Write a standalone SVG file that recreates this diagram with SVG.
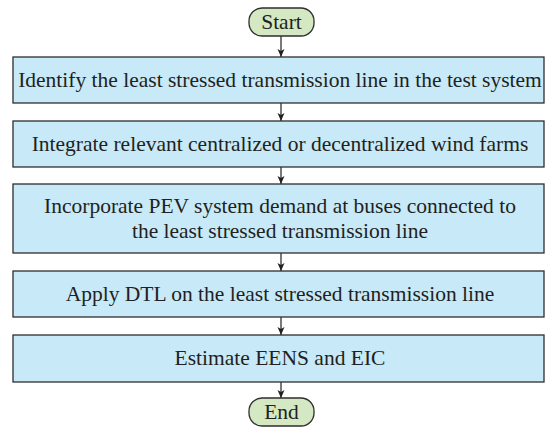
<svg xmlns="http://www.w3.org/2000/svg" width="546" height="428" viewBox="0 0 546 428">
<style>
.box{fill:#c7e9f8;stroke:#2e2e2e;stroke-width:1.3}
.pill{fill:#d3e8c3;stroke:#2e2e2e;stroke-width:1.3}
.t{font-family:'Liberation Serif','Times New Roman',serif;font-size:21.5px;fill:#231f20;text-anchor:middle}
.c{stroke:#231f20;stroke-width:1.2;fill:none;marker-end:url(#ah)}
</style>
<defs>
<marker id="ah" markerWidth="8" markerHeight="10" refX="4" refY="9" orient="0" markerUnits="userSpaceOnUse">
<path d="M0.5,1 L4,9 L7.5,1 L4,3 Z" fill="#231f20"/>
</marker>
</defs>
<g id="connectors">
<line class="c" x1="281" y1="36" x2="281" y2="57"/>
<line class="c" x1="281" y1="103" x2="281" y2="121"/>
<line class="c" x1="281" y1="167" x2="281" y2="184"/>
<line class="c" x1="281" y1="253" x2="281" y2="271"/>
<line class="c" x1="281" y1="317" x2="281" y2="335"/>
<line class="c" x1="281" y1="382" x2="281" y2="398"/>
</g>
<g id="start"><rect class="pill" x="249" y="8" width="65" height="28" rx="13"/><text class="t" x="281.5" y="29">Start</text></g>
<g id="step1"><rect class="box" x="13" y="57" width="531" height="46"/><text class="t" x="280" y="87">Identify the least stressed transmission line in the test system</text></g>
<g id="step2"><rect class="box" x="13" y="121" width="531" height="46"/><text class="t" x="280" y="151">Integrate relevant centralized or decentralized wind farms</text></g>
<g id="step3"><rect class="box" x="13" y="184" width="531" height="69"/><text class="t" x="280" y="213">Incorporate PEV system demand at buses connected to</text><text class="t" x="280" y="238">the least stressed transmission line</text></g>
<g id="step4"><rect class="box" x="13" y="271" width="531" height="46"/><text class="t" x="280" y="301">Apply DTL on the least stressed transmission line</text></g>
<g id="step5"><rect class="box" x="13" y="335" width="531" height="47"/><text class="t" x="280" y="365">Estimate EENS and EIC</text></g>
<g id="end"><rect class="pill" x="249" y="398" width="65" height="28" rx="13"/><text class="t" x="281.5" y="419">End</text></g>
</svg>
